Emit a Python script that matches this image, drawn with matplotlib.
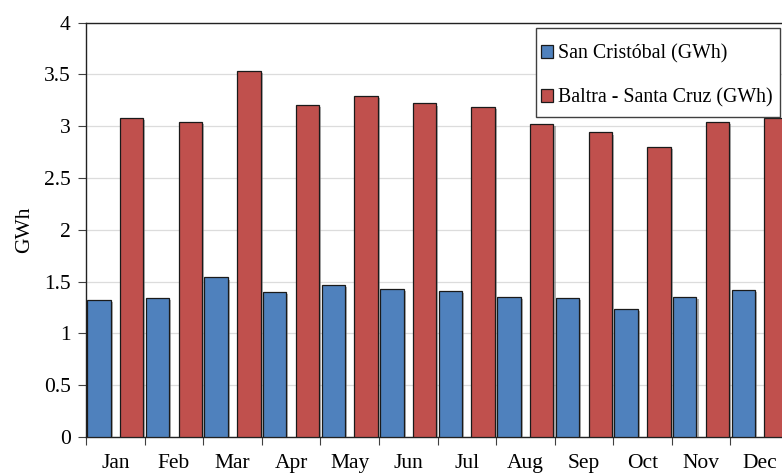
import matplotlib
matplotlib.use("Agg")
import matplotlib.pyplot as plt
import matplotlib.patheffects as pe
from matplotlib.patches import Rectangle
import numpy as np

months = ["Jan", "Feb", "Mar", "Apr", "May", "Jun", "Jul", "Aug", "Sep", "Oct", "Nov", "Dec"]
san_cristobal = [1.32, 1.34, 1.54, 1.40, 1.47, 1.43, 1.41, 1.35, 1.34, 1.24, 1.35, 1.42]
baltra_santa_cruz = [3.08, 3.04, 3.53, 3.21, 3.29, 3.22, 3.19, 3.02, 2.94, 2.80, 3.04, 3.08]
series_labels = ["San Cristóbal (GWh)", "Baltra - Santa Cruz (GWh)"]

plt.rcParams['font.family'] = ['Liberation Serif', 'DejaVu Serif']

W, H = 782, 476
fig = plt.figure(figsize=(W / 100, H / 100), dpi=100)
ax = fig.add_axes([86 / W, 1 - 437 / H, (789 - 86) / W, (437 - 22.7) / H])

x = np.arange(len(months))
bw = 0.4
shadow = [pe.SimplePatchShadow(offset=(1.5, -1.5), shadow_rgbFace='#808080', alpha=0.6), pe.Normal()]
b1 = ax.bar(x + 0.22, san_cristobal, width=bw, color='#4F81BD', edgecolor='#1a1a1a', linewidth=0.9,
            label=series_labels[0], zorder=3)
b2 = ax.bar(x + 0.78, baltra_santa_cruz, width=bw, color='#C0504D', edgecolor='#1a1a1a', linewidth=0.9,
            label=series_labels[1], zorder=3)
for b in list(b1) + list(b2):
    b.set_path_effects(shadow)

ax.set_xlim(0, 12)
ax.set_ylim(0, 4)
ax.set_yticks(np.arange(0, 4.01, 0.5))
ax.set_yticklabels(["0", "0.5", "1", "1.5", "2", "2.5", "3", "3.5", "4"])
ax.yaxis.grid(True, color='#dcdcdc', linewidth=0.9, zorder=0)
ax.set_axisbelow(True)

ax.set_xticks(np.arange(0, 13))
ax.set_xticklabels([])
ax.set_xticks(x + 0.5, minor=True)
ax.set_xticklabels(months, minor=True)
ax.tick_params(axis='x', which='minor', length=0, pad=12.5, labelsize=15.5)
ax.tick_params(axis='x', which='major', length=6, direction='out', color='#404040')
ax.tick_params(axis='y', length=6, direction='out', labelsize=15.5, pad=5, color='#404040')

for s in ['left', 'bottom', 'top', 'right']:
    ax.spines[s].set_color('#222222')
    ax.spines[s].set_linewidth(1.0)

ax.set_ylabel("GWh", fontsize=15.5)
ax.yaxis.set_label_coords((34 - 86) / 703, 0.5)

# legend frame drawn as a rectangle in figure pixels
frame = Rectangle((536 / W, 1 - 117 / H), (780 - 536) / W, (117 - 28) / H, transform=fig.transFigure,
                  facecolor='white', edgecolor='#404040', linewidth=1.0, zorder=5)
fig.patches.append(frame)
leg = fig.legend(handles=[b1, b2], labels=series_labels, loc='upper left',
                 bbox_to_anchor=(541 / W, 1 - 44 / H), bbox_transform=fig.transFigure,
                 frameon=False, fontsize=14.3,
                 handlelength=0.6, handleheight=0.6, handletextpad=0.25, labelspacing=1.25,
                 borderpad=0, borderaxespad=0)
leg.set_zorder(6)
for h in leg.legend_handles:
    h.set_path_effects([])

fig.savefig("out.png", dpi=100)
